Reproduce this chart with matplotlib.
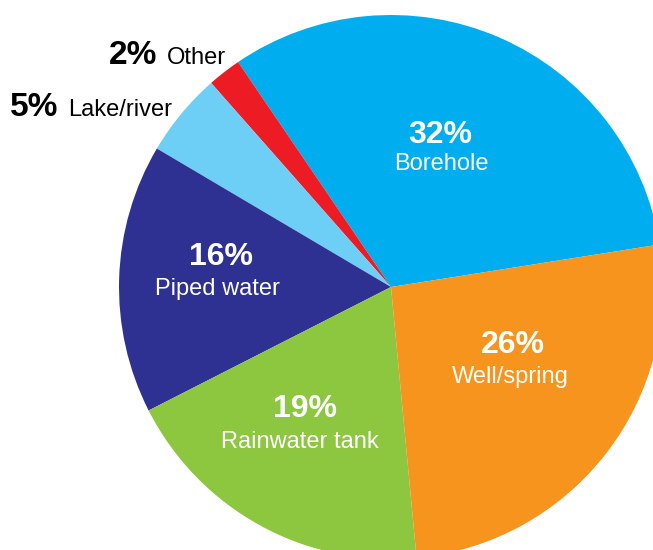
import matplotlib
import matplotlib.pyplot as plt

matplotlib.rcParams["font.family"] = ["Liberation Sans", "DejaVu Sans"]

# data
sources = ["Borehole", "Other", "Lake/river", "Piped water", "Rainwater tank", "Well/spring"]
shares = [32, 2, 5, 16, 19, 26]
colors = ["#00AEEF", "#ED1C24", "#6DCFF6", "#2E3192", "#8DC63F", "#F7941D"]

# label layout in pixels (y from top): pct x, pct baseline, name x, name baseline
inside = {
    "Borehole": (440, 143, 441, 170),
    "Piped water": (221, 265, 217, 295),
    "Rainwater tank": (305, 417, 300, 448),
    "Well/spring": (513, 353, 510, 383),
}
# right edge of pct, baseline, left edge of name
outside = {"Other": (157, 64, 167), "Lake/river": (58, 116, 68)}

W, H = 653, 550
fig = plt.figure(figsize=(W / 100, H / 100), dpi=100)
ax = fig.add_axes([0, 0, 1, 1])

ax.pie(
    shares,
    colors=colors,
    startangle=9,
    counterclock=True,
    center=(391, H - 287),
    radius=272,
    wedgeprops={"linewidth": 0},
    frame=True,
)
ax.set_xlim(0, W)
ax.set_ylim(0, H)
ax.set_aspect("equal")
ax.axis("off")

for name, pct in zip(sources, shares):
    if name in inside:
        px, py, nx, ny = inside[name]
        ax.text(px, H - py, f"{pct}%", color="white", fontsize=23,
                fontweight="bold", ha="center", va="baseline")
        ax.text(nx, H - ny, name, color="white", fontsize=17,
                ha="center", va="baseline")
    else:
        px, py, nx = outside[name]
        ax.text(px, H - py, f"{pct}%", color="black", fontsize=24,
                fontweight="bold", ha="right", va="baseline")
        ax.text(nx, H - py, name, color="black", fontsize=17,
                ha="left", va="baseline")

fig.savefig("out.png", dpi=100)
